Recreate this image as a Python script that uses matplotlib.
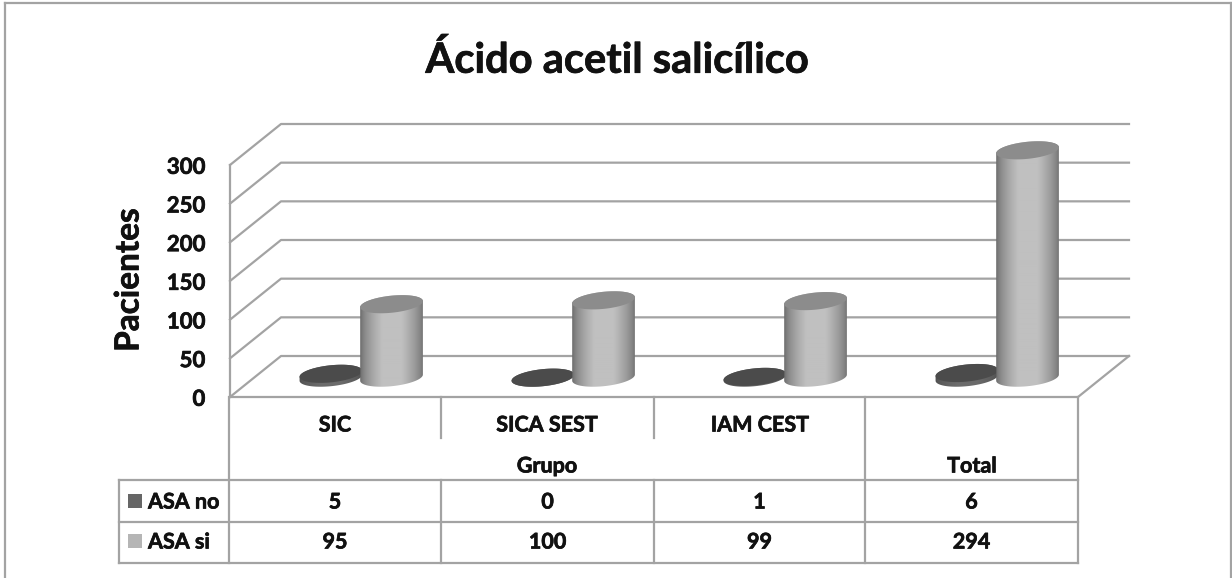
import matplotlib
matplotlib.use('Agg')
from matplotlib import pyplot as plt
from matplotlib import patheffects
from matplotlib.lines import Line2D
from matplotlib.patches import Polygon, Rectangle
import numpy as np

matplotlib.rcParams['font.family'] = ['Lato', 'DejaVu Sans']
matplotlib.rcParams['font.weight'] = 'bold'

# datos de la tabla
grupos = ["SIC", "SICA SEST", "IAM CEST"]
asa_no = [5, 0, 1, 6]
asa_si = [95, 100, 99, 294]
ticks = [0, 50, 100, 150, 200, 250, 300]
etiquetas_filas = ["ASA no", "ASA si"]

W, H = 1232, 578
GRIS = '#a3a3a3'
PX_X = 212.0        # pixeles por categoria
PX_Y = 232 / 300.0  # pixeles por paciente
PROF_X, PROF_Y = 51 / PX_X, 41 / PX_Y   # profundidad 3D en unidades de datos
TRAZO = [patheffects.withStroke(linewidth=0.5, foreground='#111111')]  # engrosa un poco la letra

fig = plt.figure(figsize=(W / 100, H / 100), dpi=100)
ax = fig.add_axes([230 / W, 1 - 397 / H, 848 / W, 232 / H])
ax.set_xlim(0, 4)
ax.set_ylim(0, 300)
ax.axis('off')


def linea_fig(x, y):
    fig.add_artist(Line2D(np.array(x) / W, 1 - np.array(y) / H, color=GRIS, lw=1.6,
                          solid_capstyle='projecting'))


def texto_fig(x, y, s, size=15.5, **kw):
    fig.text(x / W, 1 - y / H, s, fontsize=size, ha=kw.pop('ha', 'center'), va='center',
             color='#111111', path_effects=TRAZO, **kw)


def elipse(cx, cy, t=np.linspace(0, 2 * np.pi, 120)):
    # elipse inclinada, medidas en pixeles y pasada a unidades de datos
    a, b, ang = 31.5, 8.5, np.radians(6)
    dx = a * np.cos(t) * np.cos(ang) - b * np.sin(t) * np.sin(ang)
    dy = a * np.cos(t) * np.sin(ang) + b * np.sin(t) * np.cos(ang)
    return cx + dx / PX_X, cy + dy / PX_Y


def cilindro(cx, valor, tapa, oscuro, claro, z):
    base = 25
    x0, y0 = elipse(cx, base, np.linspace(np.pi, 2 * np.pi, 60))
    x1, y1 = elipse(cx, base + valor, np.linspace(0, np.pi, 60))
    cuerpo = Polygon(np.c_[np.r_[x0, x1], np.r_[y0, y1]], closed=True, fc='none', ec='none',
                     zorder=z, clip_on=False)
    ax.add_patch(cuerpo)
    # sombreado del cuerpo, claro en el centro
    s = np.linspace(-1, 1, 128)
    f = np.clip(1.25 * (1 - np.abs(s)) ** 0.6, 0, 1)
    img = oscuro + (claro - oscuro) * f
    im = ax.imshow(img[None, :], cmap='gray', vmin=0, vmax=1, aspect='auto', zorder=z,
                   extent=[cx - 32 / PX_X, cx + 32 / PX_X, base - 14, base + valor + 14])
    im.set_clip_box(fig.bbox)
    im.set_clip_path(cuerpo)
    xt, yt = elipse(cx, base + valor)
    ax.add_patch(Polygon(np.c_[xt, yt], closed=True, fc=tapa, ec='none', zorder=z + 0.1, clip_on=False))


# paredes y piso
for v in ticks:
    ax.plot([0, PROF_X, 4 + PROF_X], [v, v + PROF_Y, v + PROF_Y], color=GRIS, lw=1.6,
            clip_on=False, zorder=1)
ax.plot([0, 0], [0, 300], color=GRIS, lw=1.6, clip_on=False, zorder=1)
ax.plot([0, 4, 4 + PROF_X], [0, 0, PROF_Y], color=GRIS, lw=1.6, clip_on=False, zorder=1)

for i in range(4):
    cilindro(i + 0.476, asa_no[i], '#4b4b4b', 0.30, 0.42, 3)
    cilindro(i + 0.762, asa_si[i], '#8c8c8c', 0.40, 0.75, 4)
ax.set_xlim(0, 4)
ax.set_ylim(0, 300)

for v in ticks:
    ax.text(-0.117, v - 3, str(v), fontsize=16, ha='right', va='center', color='#111111',
            clip_on=False, path_effects=TRAZO)

# marco exterior
for xs, ys in [([5, 5], [3, 578]), ([5, 1231], [3, 3]), ([1231, 1231], [3, 578])]:
    linea_fig(xs, ys)

# tabla de datos
columnas = [229, 441, 654, 865, 1078]
linea_fig([119, 1078], [480, 480])
linea_fig([119, 1078], [522, 522])
linea_fig([119, 1078], [563, 563])
linea_fig([119, 119], [480, 563])
for x in columnas:
    linea_fig([x, x], [397, 563] if x in (229, 865, 1078) else [480, 563])
linea_fig([441, 441], [397, 438])
linea_fig([654, 654], [397, 438])

for x, g in zip(columnas, grupos):
    texto_fig(x + 106, 425, g)
texto_fig(547, 466, "Grupo")
texto_fig(972, 466, "Total")

for y, nombre, vals, color in zip([502, 542], etiquetas_filas, [asa_no, asa_si], ['#666666', '#b5b5b5']):
    fig.add_artist(Rectangle((128 / W, 1 - (y + 6) / H), 14 / W, 14 / H, fc=color, ec='none'))
    texto_fig(148, y, nombre, ha='left')
    for i, v in enumerate(vals):
        texto_fig((columnas[i] + columnas[i + 1]) / 2, y, str(v))

texto_fig(617, 60, "Ácido acetil salicílico", size=30)
texto_fig(129, 280, "Pacientes", size=24, rotation=90)

fig.savefig('out.png', dpi=100)
plt.close()
